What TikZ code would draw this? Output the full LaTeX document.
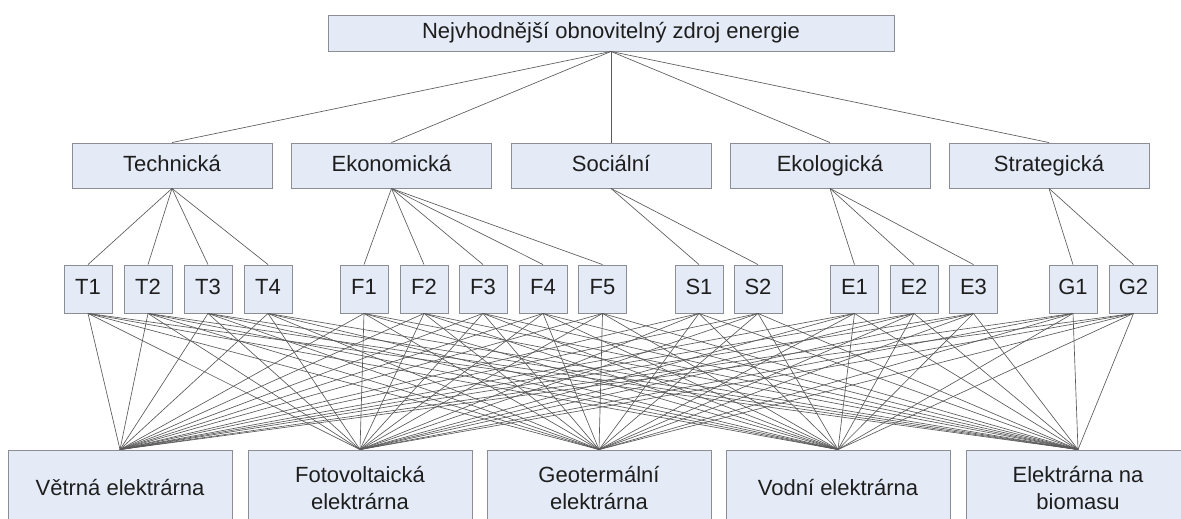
\documentclass[tikz,border=0pt]{standalone}
\usepackage{fontspec}
\setmainfont{Liberation Sans}
\definecolor{boxfill}{RGB}{228,234,246}
\definecolor{boxline}{RGB}{140,142,150}
\definecolor{wire}{RGB}{90,90,90}
\definecolor{ink}{RGB}{30,30,30}
\tikzset{
  base/.style={rectangle, draw=boxline, fill=boxfill, line width=0.9pt, inner sep=0pt,
    text=ink, font=\fontsize{22}{27}\selectfont, align=center},
  oneline/.style={text height=16pt, text depth=5pt},
  goalbox/.style={base, oneline, minimum width=566pt, minimum height=36pt},
  critbox/.style={base, oneline, minimum width=200pt, minimum height=45pt},
  subbox/.style={base, oneline, minimum width=48pt, minimum height=48pt},
  altbox/.style={base, minimum width=224pt, minimum height=76pt},
  link/.style={draw=wire, line width=0.65pt}
}
\begin{document}
\begin{tikzpicture}[x=1pt,y=-1pt]
\clip (0,0) rectangle (1181,519);
\fill[white] (0,0) rectangle (1181,519);

% goal
\node[goalbox] (goal) at (611,33) {Nejvhodnější obnovitelný zdroj energie};

% criteria
\node[critbox] (tech) at (172,165.5) {Technická};
\node[critbox] (ekon) at (391.5,165.5) {Ekonomická};
\node[critbox] (soc)  at (611,165.5) {Sociální};
\node[critbox] (ekol) at (830,165.5) {Ekologická};
\node[critbox] (strat) at (1049,165.5) {Strategická};

% sub-criteria
\foreach \n/\x in {T1/88,T2/148,T3/208,T4/268,F1/364,F2/424,F3/483,F4/543,F5/602.5,
                   S1/699,S2/758,E1/854.5,E2/914,E3/973.5,G1/1073,G2/1133.5}
  \node[subbox] (\n) at (\x,289) {\n};

% alternatives
\node[altbox] (vet) at (120,488) {Větrná elektrárna};
\node[altbox] (fot) at (360,488) {Fotovoltaická\\elektrárna};
\node[altbox] (geo) at (599,488) {Geotermální\\elektrárna};
\node[altbox] (vod) at (838,488) {Vodní elektrárna};
\node[altbox] (bio) at (1078,488) {Elektrárna na\\biomasu};

% goal to criteria
\foreach \c in {tech,ekon,soc,ekol,strat}
  \draw[link] (goal.south) -- (\c.north);

% criteria to sub-criteria
\foreach \c/\s in {tech/T1,tech/T2,tech/T3,tech/T4,
                   ekon/F1,ekon/F2,ekon/F3,ekon/F4,ekon/F5,
                   soc/S1,soc/S2,
                   ekol/E1,ekol/E2,ekol/E3,
                   strat/G1,strat/G2}
  \draw[link] (\c.south) -- (\s.north);

% sub-criteria to every alternative
\foreach \s in {T1,T2,T3,T4,F1,F2,F3,F4,F5,S1,S2,E1,E2,E3,G1,G2}
  \foreach \a in {vet,fot,geo,vod,bio}
    \draw[link] (\s.south) -- (\a.north);
\end{tikzpicture}
\end{document}
